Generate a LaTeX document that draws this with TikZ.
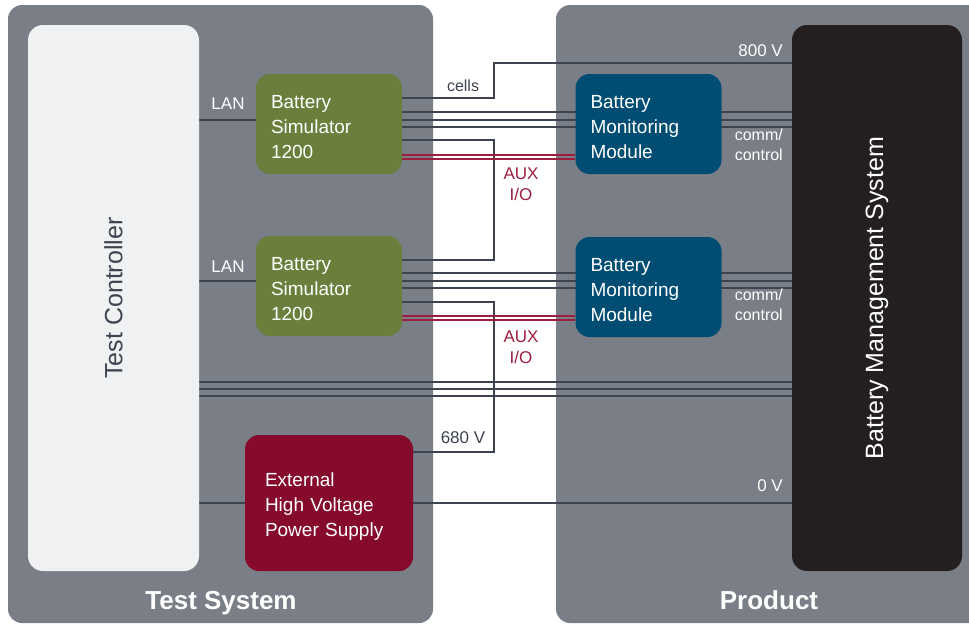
\documentclass[tikz,border=0pt]{standalone}
\usepackage{fontspec}
\setmainfont{Liberation Sans}
\usetikzlibrary{positioning,calc}

\definecolor{panelgray}{HTML}{7A7E86}
\definecolor{ctrlwhite}{HTML}{F0F1F3}
\definecolor{simgreen}{HTML}{6A7F3B}
\definecolor{modblue}{HTML}{004D73}
\definecolor{hvred}{HTML}{860A2C}
\definecolor{bmsblack}{HTML}{231F20}
\definecolor{wiregray}{HTML}{3E4350}
\definecolor{auxred}{HTML}{9C1D3E}

\pgfdeclarelayer{panels}
\pgfdeclarelayer{wires}
\pgfsetlayers{panels,wires,main}

\begin{document}
\begin{tikzpicture}[x=1pt,y=-1pt,
    box/.style={rounded corners=14pt, inner xsep=15pt, text width=116pt, minimum height=100pt,
        align=left, text=white, font=\fontsize{19}{25}\selectfont,
        execute at begin node={\rule{0pt}{20pt}}},
    wire/.style={draw=wiregray, line width=1.4pt},
    aux/.style={draw=auxred, line width=1.3pt},
    lbl/.style={font=\fontsize{17}{21}\selectfont, inner sep=0pt},
    small/.style={font=\fontsize{16}{20}\selectfont, inner sep=0pt, align=right, text=white},
    title/.style={font=\fontsize{26}{30}\selectfont\bfseries, text=white, anchor=base}]
    \useasboundingbox (0,0) rectangle (969,624);
    \clip (0,0) rectangle (969,624);

    % the two panels
    \begin{pgfonlayer}{panels}
        \fill[panelgray, rounded corners=14pt] (8,5) rectangle (433,623);
        \fill[panelgray, rounded corners=14pt] (556,5) rectangle (995,623);
    \end{pgfonlayer}

    % blocks
    \node[fill=ctrlwhite, rounded corners=15pt, minimum width=171pt, minimum height=546pt, inner sep=0pt] (tc) at (113.5,298) {};
    \node[rotate=90, text=wiregray, font=\fontsize{25}{28}\selectfont] (tcname) at (tc.center) {Test Controller};
    \node[box, fill=simgreen] (bsA) at (329,124) {Battery\\Simulator\\1200};
    \node[box, fill=simgreen] (bsB) at (329,286) {Battery\\Simulator\\1200};
    \node[box, fill=hvred, inner xsep=20pt, text width=128pt, minimum height=136pt] (hv) at (329,503) {External\\High Voltage\\Power Supply};
    \node[box, fill=modblue] (bmmA) at (648.5,124) {Battery\\Monitoring\\Module};
    \node[box, fill=modblue] (bmmB) at (648.5,287) {Battery\\Monitoring\\Module};
    \node[fill=bmsblack, rounded corners=15pt, minimum width=170pt, minimum height=546pt, inner sep=0pt] (bms) at (877,298) {};
    \node[rotate=90, text=white, font=\fontsize{25}{28}\selectfont] (bmsname) at (bms.center) {Battery Management System};

    \node[title] (tstitle) at (221,609) {Test System};
    \node[title] (prtitle) at (769,609) {Product};

    % wiring
    \begin{pgfonlayer}{wires}
        \draw[wire] (tc.east |- 0,120) -- (bsA.west |- 0,120);
        \draw[wire] (tc.east |- 0,281) -- (bsB.west |- 0,281);
        \draw[wire] (tc.east |- 0,503) -- (hv.west |- 0,503);
        \draw[wire] (hv.east |- 0,503) -- (bms.west |- 0,503);
        \draw[wire] (bsA.east |- 0,98) -| (494,63) -- (bms.west |- 0,63);
        \draw[wire] (bsA.east |- 0,140) -| (494,260) -- (bsB.east |- 0,260);
        \draw[wire] (bsB.east |- 0,302) -| (494,452) -- (hv.east |- 0,452);
        \foreach \y in {112,120,127,273,281,288}
            \draw[wire] (bsA.east |- 0,\y) -- (bms.west |- 0,\y);
        \foreach \y in {382,389,396}
            \draw[wire] (tc.east |- 0,\y) -- (bms.west |- 0,\y);
        \foreach \y in {155,159}
            \draw[aux] (bsA.east |- 0,\y) -- (bmmA.west |- 0,\y);
        \foreach \y in {316,320}
            \draw[aux] (bsB.east |- 0,\y) -- (bmmB.west |- 0,\y);
    \end{pgfonlayer}

    % labels
    \node[lbl, text=white] (lanA) at (228,104) {LAN};
    \node[lbl, text=white] (lanB) at (228,267) {LAN};
    \node[lbl, font=\fontsize{16}{20}\selectfont, text=wiregray] (cells) at (463,86) {cells};
    \node[lbl, text=white, anchor=east] (v800) at (783,51) {800 V};
    \node[lbl, text=wiregray] (v680) at (463,438) {680 V};
    \node[lbl, text=white, anchor=east] (v0) at (783,486) {0 V};
    \node[small, anchor=north east] (commA) at (783,129) {comm/\\control};
    \node[small, anchor=north east] (commB) at (783,289) {comm/\\control};
    \node[lbl, text=auxred, align=center] (auxA) at (521,184) {AUX\\I/O};
    \node[lbl, text=auxred, align=center] (auxB) at (521,347) {AUX\\I/O};
\end{tikzpicture}
\end{document}
